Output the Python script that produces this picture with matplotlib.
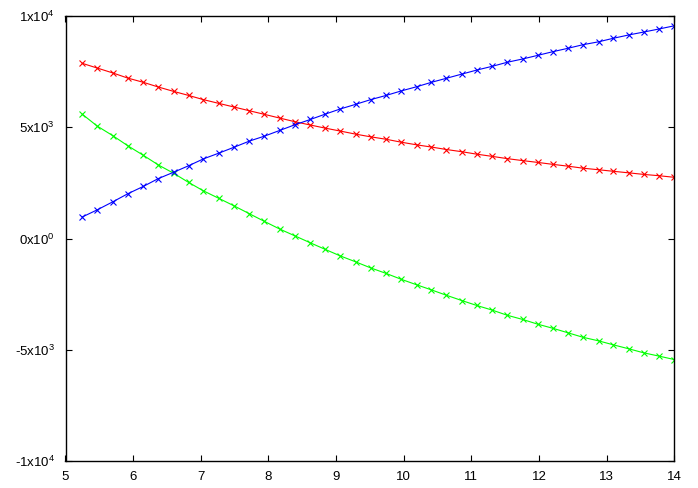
import numpy as np
import matplotlib
matplotlib.use('Agg')
from matplotlib import pyplot as plt

plt.rcParams['font.family'] = ['Liberation Sans', 'DejaVu Sans']
plt.rcParams['mathtext.default'] = 'regular'

x = [5.25, 5.47, 5.70, 5.92, 6.15, 6.37, 6.60, 6.82, 7.04, 7.27,
     7.49, 7.72, 7.94, 8.17, 8.39, 8.62, 8.84, 9.06, 9.29, 9.51,
     9.74, 9.96, 10.19, 10.41, 10.63, 10.86, 11.08, 11.31, 11.53, 11.76,
     11.98, 12.21, 12.43, 12.65, 12.88, 13.10, 13.33, 13.55, 13.78, 14.00]

red = [7870, 7660, 7440, 7210, 7020, 6810, 6610, 6430, 6240, 6070,
       5910, 5740, 5580, 5410, 5250, 5100, 4960, 4830, 4690, 4570,
       4460, 4330, 4210, 4110, 4000, 3900, 3790, 3690, 3590, 3500,
       3420, 3330, 3250, 3160, 3090, 3020, 2950, 2880, 2820, 2750]

green = [5580, 5050, 4620, 4170, 3740, 3310, 2930, 2520, 2140, 1800,
         1470, 1110, 770, 420, 120, -195, -490, -780, -1050, -1320,
         -1570, -1830, -2080, -2310, -2550, -2790, -3010, -3220, -3450, -3640,
         -3850, -4040, -4240, -4440, -4600, -4780, -4960, -5140, -5290, -5440]

blue = [970, 1290, 1650, 2010, 2340, 2690, 2980, 3270, 3580, 3840,
        4100, 4380, 4600, 4860, 5110, 5350, 5590, 5820, 6030, 6240,
        6430, 6630, 6820, 7020, 7200, 7390, 7570, 7740, 7920, 8070,
        8230, 8400, 8550, 8710, 8840, 9000, 9150, 9280, 9420, 9560]

xticks = [5, 6, 7, 8, 9, 10, 11, 12, 13, 14]
yticks = [-10000, -5000, 0, 5000, 10000]
ylabels = ['-1x10$^{4}$', '-5x10$^{3}$', '0x10$^{0}$', '5x10$^{3}$', '1x10$^{4}$']

fig = plt.figure(figsize=(6.98, 4.88), dpi=100)
ax = fig.add_axes([65.5 / 698, 1 - 461 / 488, (674.3 - 65.5) / 698, (461 - 16) / 488])

for ys, c in [(red, '#ff0000'), (green, '#00ff00'), (blue, '#0000ff')]:
    ax.plot(x, ys, color=c, lw=0.8, marker='x', ms=5, mew=0.8)

ax.set_xlim(5, 14)
ax.set_ylim(-10000, 10000)
ax.set_xticks(xticks)
ax.set_xticklabels([str(t) for t in xticks])
ax.set_yticks(yticks)
ax.set_yticklabels(ylabels)
ax.tick_params(direction='in', length=4.5, width=0.8, top=True, right=True,
               labelsize=9.5)
ax.tick_params(axis='y', pad=7.5)
ax.tick_params(axis='x', pad=7)
for sp in ax.spines.values():
    sp.set_linewidth(1.0)

fig.savefig('out.png', dpi=100)
